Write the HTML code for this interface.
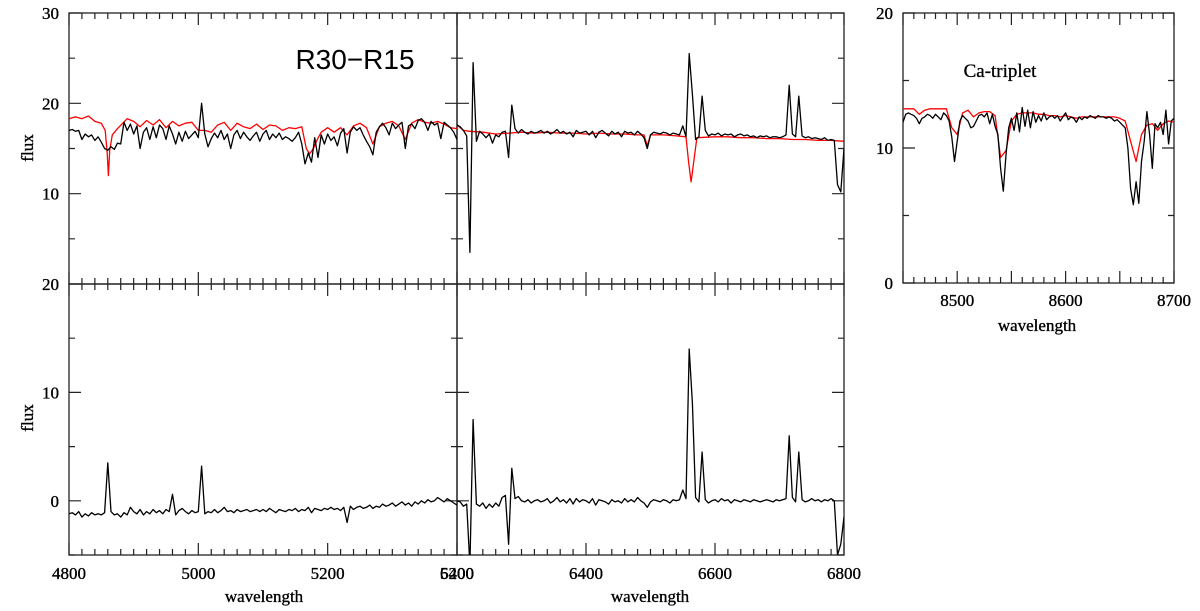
<!DOCTYPE html>
<html><head><meta charset="utf-8"><style>
html,body{margin:0;padding:0;background:#fff;}
svg{display:block;font-family:"Liberation Serif","DejaVu Serif",serif;}
.tl{font-size:17px;fill:#000;stroke:#000;stroke-width:0.35;}
</style></head><body>
<svg id="chart" width="1200" height="611" viewBox="0 0 1200 611" xmlns="http://www.w3.org/2000/svg">
<g id="frames"></g>
<g id="series"></g>
<g id="labels">
<text x="355" y="69" text-anchor="middle" style="font-family:'Liberation Sans','DejaVu Sans',sans-serif;font-size:28px">R30−R15</text>
<text x="1000" y="77" text-anchor="middle" style="font-size:19px;stroke:#000;stroke-width:0.3">Ca-triplet</text>
<text transform="translate(33,148) rotate(-90)" text-anchor="middle" class="tl">flux</text>
<text transform="translate(33,418) rotate(-90)" text-anchor="middle" class="tl">flux</text>
<text x="264" y="602" text-anchor="middle" class="tl">wavelength</text>
<text x="650" y="602" text-anchor="middle" class="tl">wavelength</text>
<text x="1037" y="331" text-anchor="middle" class="tl">wavelength</text>
</g>
</svg>
<script>
// ---- data ----
const tlBlackStart = 4800, tlBlackStep = 5;
const tlBlack = [
17.0,17.1,16.9,17.0,16.0,16.6,16.3,16.5,15.9,16.3,
15.7,15.0,14.8,15.2,14.9,15.6,15.5,17.9,17.0,17.7,
16.6,17.5,15.0,16.8,17.3,16.0,17.4,16.2,17.6,17.2,
16.0,17.5,16.6,15.5,16.8,15.8,16.9,16.1,16.5,16.9,
16.2,20.0,16.6,15.2,16.1,16.7,16.2,17.0,16.0,16.6,
15.0,16.5,17.0,16.1,16.8,16.3,15.9,16.4,16.8,15.8,
16.6,17.0,16.0,16.6,16.2,16.7,16.0,16.3,16.1,15.8,
16.2,16.8,15.5,13.3,14.5,13.5,16.2,14.0,16.5,15.5,
16.6,15.9,16.3,15.3,16.7,17.2,14.5,16.8,17.4,17.0,
17.3,16.5,15.8,15.2,14.3,16.8,17.4,17.8,17.3,16.5,
17.8,17.2,17.6,17.9,15.0,17.5,17.7,17.2,18.1,18.3,
17.9,17.0,18.0,17.6,17.8,16.1,17.9,17.6,17.3,16.8,
16.0];
const tlRedW = [4800,4810,4820,4830,4840,4850,4856,4859,4861,4863,4867,4875,4890,4900,4910,4920,4930,4940,4950,4960,4970,4980,4990,5000,5010,5020,5030,5040,5050,5060,5070,5080,5090,5100,5110,5120,5130,5140,5150,5160,5167,5172,5178,5184,5190,5200,5210,5220,5230,5240,5250,5260,5270,5280,5290,5300,5310,5320,5330,5340,5350,5360,5370,5380,5390,5400];
const tlRedV = [18.3,18.5,18.3,18.6,18.0,17.8,17.0,14.5,12.0,14.8,16.5,17.2,18.3,18.0,17.4,18.1,17.6,18.2,17.3,18.0,17.5,17.8,17.9,17.0,17.0,16.8,17.6,17.9,17.0,17.8,17.4,17.2,17.7,17.1,17.6,17.5,17.0,17.3,17.2,17.4,15.0,14.4,15.0,16.0,16.8,17.3,16.8,17.3,16.5,17.5,17.8,17.3,15.5,17.4,17.8,18.0,17.5,16.0,17.8,18.2,17.9,17.8,18.0,17.7,17.3,17.2];

const trBlackStart = 6200, trBlackStep = 5;
const trBlack = [
17.6,17.4,17.0,16.4,3.5,24.5,15.8,16.9,16.6,16.2,
16.6,15.6,16.5,16.3,16.8,16.9,14.0,19.8,17.2,16.7,
17.1,16.8,16.6,16.9,16.7,16.8,17.0,16.7,16.9,16.6,
16.8,17.1,16.7,16.9,16.6,16.8,16.3,17.0,16.7,16.8,
16.9,16.5,16.9,16.2,16.8,17.0,16.7,16.4,16.9,16.6,
16.8,16.3,16.9,16.7,16.8,16.5,16.9,16.6,16.2,15.0,
16.5,16.8,16.7,16.6,16.8,16.7,16.5,16.7,16.6,16.5,
17.5,16.3,25.5,21.0,16.0,16.3,20.8,17.0,16.4,16.6,
16.5,16.7,16.4,16.6,16.5,16.6,16.3,16.5,16.6,16.4,
16.5,16.3,16.4,16.2,16.4,16.3,16.4,16.2,16.3,16.3,
16.2,16.3,16.5,22.0,16.6,16.3,20.8,16.4,16.2,16.3,
16.1,16.2,16.1,16.0,16.2,15.9,16.0,15.9,11.0,10.2,
15.0];
const trRedW = [6200,6210,6220,6240,6260,6280,6300,6320,6340,6360,6380,6400,6420,6440,6460,6480,6490,6495,6500,6520,6540,6555,6559,6563,6567,6572,6600,6620,6640,6660,6680,6700,6720,6740,6760,6780,6800];
const trRedV = [17.6,17.0,16.9,16.8,16.6,16.7,16.8,16.7,16.8,16.7,16.7,16.6,16.7,16.6,16.6,16.5,16.5,15.3,16.5,16.5,16.4,16.3,13.5,11.3,13.5,16.2,16.3,16.3,16.2,16.2,16.1,16.1,16.0,16.0,15.9,15.9,15.8];

const blBlackStart = 4800, blBlackStep = 5;
const blBlack = [
-1.2,-1.1,-1.3,-1.0,-1.5,-1.2,-1.4,-1.1,-1.3,-1.2,
-1.3,-1.1,3.5,-1.0,-1.3,-1.2,-1.5,-1.1,-1.3,-0.6,
-1.0,-1.2,-0.8,-1.3,-1.0,-1.2,-0.8,-1.1,-0.9,-1.2,
-0.8,-1.0,0.6,-1.3,-0.9,-0.7,-1.0,-1.2,-0.9,-1.1,
-1.0,3.2,-1.2,-1.0,-1.1,-0.8,-1.1,-0.9,-0.6,-1.0,
-0.9,-1.1,-0.8,-1.0,-0.9,-0.8,-1.0,-0.9,-0.8,-1.0,
-0.8,-1.0,-0.7,-0.9,-1.1,-0.8,-0.9,-1.0,-0.8,-0.9,
-0.7,-1.0,-0.8,-0.9,-0.6,-1.1,-0.7,-0.8,-0.9,-0.7,
-0.8,-0.6,-0.8,-0.7,-0.9,-0.6,-2.0,-0.5,-0.8,-0.6,
-0.5,-0.7,-0.6,-0.4,-0.7,-0.5,-0.6,-0.3,-0.5,-0.4,
-0.2,-0.5,-0.3,-0.1,-0.4,-0.2,-0.5,-0.1,-0.3,0.0,
-0.2,0.1,-0.1,0.0,0.3,0.1,-0.1,0.2,0.0,-0.2,
-0.4];

const brBlackStart = 6200, brBlackStep = 5;
const brBlack = [
0.0,-0.1,-0.5,-0.3,-6.0,7.5,-0.3,-0.5,-0.2,-0.7,
-0.3,-0.6,-0.2,-0.5,0.3,0.5,-4.0,3.0,0.2,0.4,
0.0,-0.1,0.1,-0.2,0.0,0.1,-0.1,0.0,0.2,-0.2,
0.0,0.3,-0.1,0.1,-0.2,0.2,-0.3,0.2,-0.1,0.1,
0.0,-0.2,0.2,-0.4,0.1,0.0,-0.1,-0.3,0.1,-0.1,
0.0,-0.2,0.2,-0.1,0.1,-0.1,0.3,0.0,-0.2,-0.6,
-0.1,0.1,0.0,-0.1,0.1,0.0,-0.2,0.1,0.0,0.1,
1.0,0.2,14.0,9.0,0.3,-0.1,4.5,0.1,-0.2,0.0,
0.1,-0.1,0.2,0.0,0.1,-0.2,0.1,0.0,-0.1,0.1,
0.0,-0.1,0.1,0.0,-0.1,0.0,0.1,0.0,-0.1,0.1,
0.0,0.1,0.2,6.0,0.3,-0.1,4.5,0.1,-0.1,0.0,
0.2,0.0,0.1,-0.1,0.1,0.0,0.2,0.0,-5.0,-4.0,
-1.5];

const caBlackStart = 8450, caBlackStep = 2.5;
const caBlack = [
11.9,12.5,12.6,12.5,12.4,12.2,11.8,12.2,12.3,12.5,
12.4,12.2,12.5,12.3,12.1,12.6,12.4,12.0,10.8,9.0,
10.5,12.0,12.4,12.2,12.0,11.5,11.6,12.0,12.4,12.5,
12.3,12.6,11.8,12.5,11.6,11.0,8.5,6.8,9.5,11.5,
12.2,11.3,12.6,11.2,13.0,11.6,12.8,11.5,12.7,11.9,
12.4,12.0,12.6,12.1,12.3,12.4,12.2,12.4,12.0,12.3,
12.6,12.1,12.3,12.2,11.9,12.3,12.1,12.3,12.2,12.4,
12.3,12.2,12.4,12.3,12.3,12.2,12.3,12.2,12.0,12.1,
11.9,11.7,11.5,10.0,7.0,5.8,7.5,5.9,9.0,10.5,
12.7,11.0,8.5,11.8,11.5,11.9,11.0,12.8,10.3,12.0,
12.2];
const caRedStart = 8450, caRedStep = 5;
const caRed = [
12.9,12.9,12.9,12.5,12.8,12.9,12.9,12.9,12.9,11.5,
11.0,12.6,12.8,12.3,12.6,12.7,12.7,12.4,9.3,9.8,
12.0,12.5,12.6,12.6,12.6,12.5,12.5,12.4,12.4,12.3,
12.4,12.3,12.2,12.3,12.3,12.3,12.3,12.3,12.3,12.3,
12.2,12.0,10.5,9.0,11.0,11.7,11.8,11.3,11.8,12.0,
11.9];

const tlYTicks = ["30","20","10"];
const blYTicks = ["20","10","0"];
const caYTicks = ["20","10","0"];
const leftXTicks = ["4800","5000","5200","5400"];
const rightXTicks = ["6200","6400","6600","6800"];
const caXTicks = ["8500","8600","8700"];

// ---- layout ----
const NS = "http://www.w3.org/2000/svg";
const panels = {
  tl:{x0:69,x1:457,y0:13,y1:284,wmin:4800,wmax:5400,fmin:0,fmax:30},
  tr:{x0:457,x1:844,y0:13,y1:284,wmin:6200,wmax:6800,fmin:0,fmax:30},
  bl:{x0:69,x1:457,y0:284,y1:555,wmin:4800,wmax:5400,fmin:-5,fmax:20},
  br:{x0:457,x1:844,y0:284,y1:555,wmin:6200,wmax:6800,fmin:-5,fmax:20},
  ca:{x0:903,x1:1174,y0:13,y1:283,wmin:8450,wmax:8700,fmin:0,fmax:20}
};
function sx(p,w){return p.x0+(w-p.wmin)/(p.wmax-p.wmin)*(p.x1-p.x0);}
function sy(p,f){return p.y1-(f-p.fmin)/(p.fmax-p.fmin)*(p.y1-p.y0);}
const frames=document.getElementById('frames'), series=document.getElementById('series'), labels=document.getElementById('labels');
let tickD="";
function seg(x1,y1,x2,y2){tickD+=`M${x1},${y1}L${x2},${y2}`;}

function frame(p,name,xMinor,xMajor,yMinor,yMajor){
  const r=document.createElementNS(NS,'rect');
  r.setAttribute('x',p.x0);r.setAttribute('y',p.y0);r.setAttribute('width',p.x1-p.x0);r.setAttribute('height',p.y1-p.y0);
  r.setAttribute('fill','none');r.setAttribute('stroke','#222');r.setAttribute('stroke-width','1.3');
  
  
  frames.appendChild(r);
  for(let w=p.wmin;w<=p.wmax+1e-6;w+=xMinor){
    const x=sx(p,w), big=Math.abs(((w-p.wmin)%xMajor))<1e-6||Math.abs(((w-p.wmin)%xMajor)-xMajor)<1e-6;
    const L=big?12:6; seg(x,p.y0,x,p.y0+L); seg(x,p.y1,x,p.y1-L);
  }
  for(let f=p.fmin;f<=p.fmax+1e-6;f+=yMinor){
    const y=sy(p,f), big=Math.abs(f%yMajor)<1e-6;
    const L=big?12:6; seg(p.x0,y,p.x0+L,y); seg(p.x1,y,p.x1-L,y);
  }
}
frame(panels.tl,'top-left',20,200,5,10);
frame(panels.tr,'top-right',20,200,5,10);
frame(panels.bl,'bottom-left',20,200,5,10);
frame(panels.br,'bottom-right',20,200,5,10);
frame(panels.ca,'ca-triplet',10,50,5,10);
for(let w=4800;w<=5400;w+=20){const x=sx(panels.bl,w);const L=(w%200===0)?12:6;seg(x,284,x,284-L);}
for(let w=6200;w<=6800;w+=20){const x=sx(panels.br,w);const L=(w%200===0)?12:6;seg(x,284,x,284-L);}
const tk=document.createElementNS(NS,'path');
tk.setAttribute('d',tickD);tk.setAttribute('stroke','#222');tk.setAttribute('stroke-width','1.2');tk.setAttribute('fill','none');


frames.appendChild(tk);

function txt(x,y,s,anchor,name){
  const t=document.createElementNS(NS,'text');
  t.setAttribute('x',x);t.setAttribute('y',y);t.setAttribute('text-anchor',anchor);t.setAttribute('class','tl');
  t.textContent=s;
  
  
  labels.appendChild(t);
}
tlYTicks.forEach(s=>txt(59,sy(panels.tl,+s)+6,s,'end','y-tick-label'));
blYTicks.forEach(s=>txt(59,sy(panels.bl,+s)+6,s,'end','y-tick-label'));
caYTicks.forEach(s=>txt(893,sy(panels.ca,+s)+6,s,'end','y-tick-label'));
leftXTicks.forEach(s=>txt(sx(panels.bl,+s),579,s,'middle','x-tick-label'));
rightXTicks.forEach(s=>txt(sx(panels.br,+s),579,s,'middle','x-tick-label'));
caXTicks.forEach(s=>txt(sx(panels.ca,+s),306,s,'middle','x-tick-label'));

function clipFor(p,id){
  const c=document.createElementNS(NS,'clipPath');c.setAttribute('id',id);
  const r=document.createElementNS(NS,'rect');
  r.setAttribute('x',p.x0);r.setAttribute('y',p.y0);r.setAttribute('width',p.x1-p.x0);r.setAttribute('height',p.y1-p.y0);
  c.appendChild(r);series.appendChild(c);
}
Object.keys(panels).forEach(k=>clipFor(panels[k],'clip-'+k));
function linePts(p,ws,vs,color,name,key){
  let d="";
  for(let i=0;i<vs.length;i++){d+=(i?'L':'M')+sx(p,ws[i]).toFixed(1)+','+sy(p,vs[i]).toFixed(1);}
  const pa=document.createElementNS(NS,'path');
  pa.setAttribute('d',d);pa.setAttribute('fill','none');pa.setAttribute('stroke',color);pa.setAttribute('stroke-width','1.3');
  pa.setAttribute('stroke-linejoin','round');pa.setAttribute('clip-path','url(#clip-'+key+')');
  
  
  series.appendChild(pa);
}
function grid(start,step,n){const a=[];for(let i=0;i<n;i++)a.push(start+i*step);return a;}
linePts(panels.tl,tlRedW,tlRedV,'#ff0000','model-spectrum-top-left','tl');
linePts(panels.tl,grid(tlBlackStart,tlBlackStep,tlBlack.length),tlBlack,'#000','observed-spectrum-top-left','tl');
linePts(panels.tr,trRedW,trRedV,'#ff0000','model-spectrum-top-right','tr');
linePts(panels.tr,grid(trBlackStart,trBlackStep,trBlack.length),trBlack,'#000','observed-spectrum-top-right','tr');
linePts(panels.bl,grid(blBlackStart,blBlackStep,blBlack.length),blBlack,'#000','residual-spectrum-bottom-left','bl');
linePts(panels.br,grid(brBlackStart,brBlackStep,brBlack.length),brBlack,'#000','residual-spectrum-bottom-right','br');
linePts(panels.ca,grid(caRedStart,caRedStep,caRed.length),caRed,'#ff0000','model-spectrum-ca-triplet','ca');
linePts(panels.ca,grid(caBlackStart,caBlackStep,caBlack.length),caBlack,'#000','observed-spectrum-ca-triplet','ca');
</script>
</body></html>
